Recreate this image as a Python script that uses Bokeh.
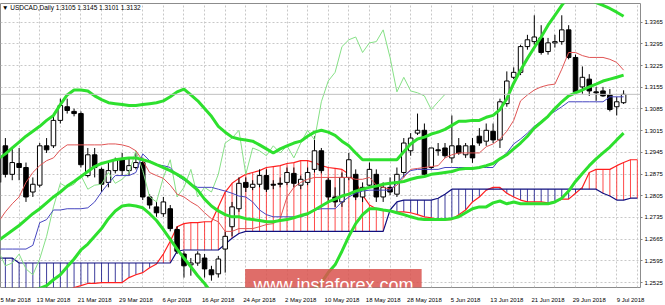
import numpy as np
from bokeh.plotting import figure
from bokeh.models import Range1d, FixedTicker, Label, Span, PrintfTickFormatter, BoxAnnotation
from bokeh.embed import file_html
from bokeh.resources import INLINE

# ---------------- data (USDCAD daily, 5 Mar 2018 .. 10 Jul 2018) ----------------
date_labels = ["5 Mar 2018", "13 Mar 2018", "21 Mar 2018", "29 Mar 2018", "6 Apr 2018",
               "16 Apr 2018", "24 Apr 2018", "2 May 2018", "10 May 2018", "18 May 2018",
               "28 May 2018", "5 Jun 2018", "13 Jun 2018", "21 Jun 2018", "29 Jun 2018",
               "9 Jul 2018"]

opens = [1.2848, 1.2966, 1.2874, 1.2909, 1.2896, 1.2817, 1.2839, 1.2966, 1.2966, 1.3048,
         1.3092, 1.3077, 1.3070, 1.2870, 1.2937, 1.2890, 1.2848, 1.2886, 1.2921, 1.2886,
         1.2896, 1.2912, 1.2801, 1.2769, 1.2747, 1.2763, 1.2696, 1.2617, 1.2582, 1.2588,
         1.2604, 1.2566, 1.2553, 1.2633, 1.2705, 1.2763, 1.2848, 1.2832, 1.2842, 1.2870,
         1.2842, 1.2845, 1.2848, 1.2877, 1.2839, 1.2848, 1.2890, 1.2950, 1.2855, 1.2801,
         1.2785, 1.2864, 1.2874, 1.2801, 1.2839, 1.2874, 1.2801, 1.2832, 1.2810, 1.2880,
         1.2950, 1.3007, 1.3016, 1.2896, 1.2953, 1.2959, 1.2927, 1.2966, 1.2937, 1.2966,
         1.2997, 1.2981, 1.3013, 1.2985, 1.3102, 1.3187, 1.3203, 1.3286, 1.3302, 1.3314,
         1.3270, 1.3298, 1.3302, 1.3340, 1.3251, 1.3156, 1.3181, 1.3140, 1.3143, 1.3130,
         1.3092, 1.3105]
highs = [1.2943, 1.2991, 1.2959, 1.2959, 1.2912, 1.2864, 1.2975, 1.2991, 1.3061, 1.3118,
         1.3118, 1.3086, 1.3077, 1.2959, 1.2959, 1.2896, 1.2912, 1.2928, 1.2943, 1.2928,
         1.2943, 1.2928, 1.2810, 1.2785, 1.2801, 1.2775, 1.2706, 1.2626, 1.2604, 1.2626,
         1.2617, 1.2579, 1.2611, 1.2690, 1.2785, 1.2864, 1.2864, 1.2855, 1.2890, 1.2890,
         1.2855, 1.2864, 1.2896, 1.2896, 1.2870, 1.2896, 1.2997, 1.2959, 1.2864, 1.2832,
         1.2880, 1.2943, 1.2890, 1.2848, 1.2912, 1.2890, 1.2848, 1.2864, 1.2896, 1.2991,
         1.3007, 1.3070, 1.3038, 1.2959, 1.2975, 1.2975, 1.3064, 1.2991, 1.2975, 1.2991,
         1.3023, 1.3038, 1.3038, 1.3118, 1.3206, 1.3219, 1.3292, 1.3324, 1.3387, 1.3355,
         1.3314, 1.3324, 1.3387, 1.3355, 1.3260, 1.3222, 1.3197, 1.3156, 1.3156, 1.3149,
         1.3124, 1.3145]
lows = [1.2832, 1.2864, 1.2855, 1.2855, 1.2785, 1.2801, 1.2832, 1.2943, 1.2959, 1.3038,
        1.3070, 1.3061, 1.2896, 1.2864, 1.2864, 1.2817, 1.2832, 1.2877, 1.2870, 1.2870,
        1.2890, 1.2791, 1.2763, 1.2737, 1.2737, 1.2690, 1.2617, 1.2541, 1.2547, 1.2579,
        1.2541, 1.2531, 1.2541, 1.2557, 1.2674, 1.2753, 1.2817, 1.2823, 1.2832, 1.2817,
        1.2826, 1.2832, 1.2839, 1.2832, 1.2826, 1.2839, 1.2880, 1.2877, 1.2785, 1.2769,
        1.2769, 1.2855, 1.2791, 1.2785, 1.2832, 1.2785, 1.2785, 1.2807, 1.2801, 1.2864,
        1.2934, 1.3001, 1.2864, 1.2890, 1.2934, 1.2927, 1.2911, 1.2937, 1.2927, 1.2911,
        1.2966, 1.2966, 1.2975, 1.2959, 1.3092, 1.3181, 1.3194, 1.3276, 1.3292, 1.3260,
        1.3260, 1.3283, 1.3292, 1.3245, 1.3134, 1.3134, 1.3127, 1.3111, 1.3124, 1.3077,
        1.3064, 1.3101]
closes = [1.2927, 1.2874, 1.2912, 1.2896, 1.2801, 1.2842, 1.2966, 1.2953, 1.3048, 1.3096,
          1.3080, 1.3070, 1.2905, 1.2937, 1.2896, 1.2842, 1.2886, 1.2921, 1.2886, 1.2902,
          1.2912, 1.2801, 1.2775, 1.2750, 1.2785, 1.2699, 1.2626, 1.2579, 1.2588, 1.2617,
          1.2569, 1.2550, 1.2601, 1.2674, 1.2769, 1.2845, 1.2832, 1.2842, 1.2870, 1.2826,
          1.2839, 1.2842, 1.2880, 1.2845, 1.2858, 1.2880, 1.2950, 1.2886, 1.2801, 1.2785,
          1.2864, 1.2921, 1.2801, 1.2832, 1.2890, 1.2801, 1.2832, 1.2817, 1.2874, 1.2975,
          1.2991, 1.3016, 1.2874, 1.2959, 1.2950, 1.2934, 1.2966, 1.2943, 1.2966, 1.2927,
          1.2975, 1.3016, 1.2985, 1.3108, 1.3175, 1.3203, 1.3286, 1.3308, 1.3317, 1.3267,
          1.3298, 1.3302, 1.3340, 1.3251, 1.3140, 1.3187, 1.3143, 1.3137, 1.3127, 1.3083,
          1.3108, 1.3132]

tenkan = [1.2721, 1.2753, 1.2779, 1.2801, 1.2848, 1.2880, 1.2902, 1.2918, 1.2927, 1.2953,
          1.2969, 1.2969, 1.2969, 1.2969, 1.2969, 1.2969, 1.2972, 1.2972, 1.2969, 1.2963,
          1.2950, 1.2918, 1.2880, 1.2870, 1.2861, 1.2839, 1.2810, 1.2801, 1.2785, 1.2772,
          1.2750, 1.2731, 1.2721, 1.2690, 1.2690, 1.2699, 1.2699, 1.2699, 1.2705, 1.2712,
          1.2715, 1.2731, 1.2801, 1.2832, 1.2848, 1.2858, 1.2864, 1.2864, 1.2864, 1.2864,
          1.2864, 1.2864, 1.2858, 1.2858, 1.2864, 1.2839, 1.2832, 1.2826, 1.2839, 1.2864,
          1.2890, 1.2893, 1.2896, 1.2899, 1.2902, 1.2927, 1.2937, 1.2943, 1.2943, 1.2943,
          1.2943, 1.2963, 1.2972, 1.2988, 1.3013, 1.3048, 1.3111, 1.3130, 1.3146, 1.3156,
          1.3162, 1.3165, 1.3213, 1.3267, 1.3267, 1.3257, 1.3251, 1.3251, 1.3251, 1.3245,
          1.3235, 1.3210]
kijun = [1.2633, 1.2633, 1.2633, 1.2633, 1.2633, 1.2645, 1.2718, 1.2728, 1.2759, 1.2759,
         1.2763, 1.2763, 1.2763, 1.2766, 1.2785, 1.2817, 1.2845, 1.2870, 1.2870, 1.2870,
         1.2880, 1.2940, 1.2918, 1.2905, 1.2902, 1.2896, 1.2870, 1.2855, 1.2842, 1.2832,
         1.2832, 1.2832, 1.2826, 1.2820, 1.2813, 1.2804, 1.2801, 1.2785, 1.2759, 1.2744,
         1.2737, 1.2737, 1.2737, 1.2737, 1.2737, 1.2744, 1.2759, 1.2763, 1.2763, 1.2763,
         1.2785, 1.2801, 1.2813, 1.2820, 1.2823, 1.2823, 1.2823, 1.2823, 1.2845, 1.2870,
         1.2886, 1.2890, 1.2890, 1.2890, 1.2890, 1.2896, 1.2896, 1.2896, 1.2896, 1.2896,
         1.2896, 1.2896, 1.2896, 1.2924, 1.2943, 1.2972, 1.2988, 1.3007, 1.3029, 1.3045,
         1.3064, 1.3077, 1.3092, 1.3108, 1.3108, 1.3108, 1.3108, 1.3108, 1.3108, 1.3124,
         1.3124, 1.3124]
# Senkou spans run 2 bars past the last candle (to the right edge)
senkou_a = [1.2389, 1.2395, 1.2404, 1.2414, 1.2427, 1.2436, 1.2446, 1.2458, 1.2468, 1.2484,
            1.2496, 1.2509, 1.2515, 1.2522, 1.2522, 1.2525, 1.2525, 1.2525, 1.2525, 1.2541,
            1.2550, 1.2557, 1.2573, 1.2585, 1.2617, 1.2658, 1.2705, 1.2715, 1.2718, 1.2718,
            1.2721, 1.2721, 1.2769, 1.2817, 1.2845, 1.2861, 1.2874, 1.2880, 1.2886, 1.2896,
            1.2899, 1.2902, 1.2909, 1.2912, 1.2918, 1.2918, 1.2912, 1.2902, 1.2896, 1.2893,
            1.2890, 1.2874, 1.2848, 1.2807, 1.2775, 1.2763, 1.2759, 1.2756, 1.2753, 1.2753,
            1.2750, 1.2744, 1.2737, 1.2734, 1.2728, 1.2728, 1.2728, 1.2744, 1.2759, 1.2785,
            1.2801, 1.2823, 1.2832, 1.2832, 1.2813, 1.2801, 1.2791, 1.2785, 1.2785, 1.2785,
            1.2782, 1.2785, 1.2794, 1.2794, 1.2813, 1.2832, 1.2880, 1.2890, 1.2890, 1.2890,
            1.2902, 1.2912, 1.2921, 1.2921]
senkou_b = [1.2604, 1.2604, 1.2604, 1.2588, 1.2588, 1.2588, 1.2588, 1.2588, 1.2588, 1.2588,
            1.2588, 1.2588, 1.2588, 1.2588, 1.2588, 1.2588, 1.2588, 1.2588, 1.2588, 1.2588,
            1.2588, 1.2588, 1.2588, 1.2588, 1.2588, 1.2588, 1.2626, 1.2630, 1.2630, 1.2630,
            1.2630, 1.2630, 1.2630, 1.2649, 1.2668, 1.2683, 1.2690, 1.2690, 1.2690, 1.2690,
            1.2690, 1.2690, 1.2690, 1.2690, 1.2690, 1.2690, 1.2690, 1.2690, 1.2690, 1.2690,
            1.2690, 1.2690, 1.2690, 1.2690, 1.2690, 1.2690, 1.2690, 1.2759, 1.2785, 1.2791,
            1.2791, 1.2791, 1.2791, 1.2791, 1.2797, 1.2810, 1.2826, 1.2826, 1.2826, 1.2826,
            1.2826, 1.2826, 1.2826, 1.2826, 1.2826, 1.2826, 1.2826, 1.2826, 1.2826, 1.2826,
            1.2826, 1.2826, 1.2826, 1.2826, 1.2826, 1.2826, 1.2826, 1.2826, 1.2813, 1.2804,
            1.2791, 1.2791, 1.2797, 1.2797]

bb_upper = [1.2924, 1.2940, 1.2959, 1.2978, 1.2997, 1.3013, 1.3029, 1.3048, 1.3064, 1.3099,
            1.3130, 1.3146, 1.3146, 1.3143, 1.3127, 1.3115, 1.3105, 1.3102, 1.3099, 1.3096,
            1.3096, 1.3099, 1.3102, 1.3105, 1.3111, 1.3124, 1.3140, 1.3149, 1.3130, 1.3111,
            1.3086, 1.3061, 1.3029, 1.3010, 1.2994, 1.2988, 1.2985, 1.2981, 1.2969, 1.2956,
            1.2943, 1.2956, 1.2966, 1.2975, 1.2981, 1.2997, 1.3010, 1.3016, 1.3010, 1.3000,
            1.2981, 1.2966, 1.2943, 1.2921, 1.2921, 1.2921, 1.2921, 1.2921, 1.2921, 1.2947,
            1.2972, 1.2988, 1.2994, 1.3004, 1.3010, 1.3019, 1.3032, 1.3045, 1.3045, 1.3048,
            1.3048, 1.3058, 1.3064, 1.3083, 1.3118, 1.3168, 1.3210, 1.3248, 1.3283, 1.3317,
            1.3355, 1.3387, 1.3419, 1.3447, 1.3460, 1.3454, 1.3438, 1.3428, 1.3419, 1.3409,
            1.3397, 1.3384]
bb_middle = [1.2661, 1.2677, 1.2693, 1.2709, 1.2728, 1.2747, 1.2763, 1.2782, 1.2801, 1.2817,
             1.2836, 1.2851, 1.2867, 1.2883, 1.2899, 1.2909, 1.2915, 1.2921, 1.2924, 1.2927,
             1.2927, 1.2921, 1.2915, 1.2905, 1.2896, 1.2886, 1.2874, 1.2861, 1.2842, 1.2823,
             1.2794, 1.2772, 1.2756, 1.2744, 1.2737, 1.2737, 1.2731, 1.2728, 1.2725, 1.2721,
             1.2721, 1.2725, 1.2728, 1.2734, 1.2741, 1.2747, 1.2759, 1.2772, 1.2785, 1.2794,
             1.2804, 1.2810, 1.2820, 1.2826, 1.2832, 1.2836, 1.2842, 1.2845, 1.2848, 1.2851,
             1.2858, 1.2864, 1.2867, 1.2874, 1.2877, 1.2880, 1.2883, 1.2890, 1.2893, 1.2893,
             1.2896, 1.2902, 1.2909, 1.2924, 1.2937, 1.2956, 1.2975, 1.2997, 1.3023, 1.3042,
             1.3061, 1.3086, 1.3108, 1.3127, 1.3137, 1.3146, 1.3156, 1.3165, 1.3175, 1.3181,
             1.3187, 1.3194]
bb_lower = [1.2404, 1.2427, 1.2446, 1.2468, 1.2484, 1.2496, 1.2506, 1.2515, 1.2534, 1.2550,
            1.2576, 1.2601, 1.2630, 1.2649, 1.2674, 1.2699, 1.2731, 1.2756, 1.2772, 1.2775,
            1.2772, 1.2766, 1.2747, 1.2725, 1.2696, 1.2664, 1.2633, 1.2604, 1.2576, 1.2547,
            1.2522, 1.2493, 1.2477, 1.2468, 1.2465, 1.2471, 1.2468, 1.2462, 1.2468, 1.2477,
            1.2490, 1.2493, 1.2490, 1.2493, 1.2500, 1.2496, 1.2503, 1.2525, 1.2557, 1.2582,
            1.2626, 1.2674, 1.2715, 1.2744, 1.2763, 1.2763, 1.2759, 1.2756, 1.2750, 1.2744,
            1.2737, 1.2731, 1.2728, 1.2728, 1.2728, 1.2728, 1.2731, 1.2737, 1.2750, 1.2763,
            1.2769, 1.2769, 1.2782, 1.2788, 1.2779, 1.2785, 1.2779, 1.2779, 1.2779, 1.2779,
            1.2779, 1.2785, 1.2797, 1.2820, 1.2851, 1.2877, 1.2902, 1.2924, 1.2943, 1.2962,
            1.2985, 1.3007]

price_ticks = [1.2525, 1.2595, 1.2665, 1.2735, 1.2805, 1.2875, 1.2945, 1.3015, 1.3085,
               1.3155, 1.3225, 1.3295, 1.3365]
bid_price = 1.3132
title_text = "\u25bc USDCAD,Daily  1.3105 1.3145 1.3101 1.3132"
watermark = "www.instaforex.com"
LAG = 26

# ---------------- figure ----------------
FONT = "Liberation Sans"
p = figure(width=665, height=305, output_backend="svg", toolbar_location=None,
           x_range=Range1d(0.29, 93.46), y_range=Range1d(1.2509, 1.3425),
           y_axis_location="right", min_border_left=0, min_border_top=3,
           min_border_right=24, min_border_bottom=13)
p.background_fill_color = "white"
p.border_fill_color = "white"
p.outline_line_color = "#8c8c8c"

# grid
p.xgrid.ticker = FixedTicker(ticks=list(range(0, 94, 3)))
p.ygrid.ticker = FixedTicker(ticks=price_ticks)
for g in (p.xgrid, p.ygrid):
    g.grid_line_color = "#c8c8c8"
    g.grid_line_dash = "2 2"
    g.grid_line_width = 1

# axes
ya = p.yaxis[0]
ya.ticker = FixedTicker(ticks=price_ticks)
ya.formatter = PrintfTickFormatter(format="%.4f")
ya.major_label_text_font = FONT
ya.major_label_text_font_size = "6px"
ya.major_label_text_color = "black"
ya.axis_line_color = None
ya.major_tick_in = 0
ya.major_tick_out = 2
ya.major_tick_line_color = "#808080"
ya.minor_tick_line_color = None
ya.major_label_standoff = 2

xa = p.xaxis[0]
xticks = [6 * i + 2 for i in range(len(date_labels))]
xa.ticker = FixedTicker(ticks=xticks)
xa.major_label_overrides = {t: lab for t, lab in zip(xticks, date_labels)}
xa.major_label_text_font = FONT
xa.major_label_text_font_size = "6px"
xa.major_label_text_color = "black"
xa.axis_line_color = None
xa.major_tick_line_color = None
xa.minor_tick_line_color = None
xa.major_label_standoff = 3

# ---------------- Ichimoku cloud ----------------
nb = len(senkou_a)
xs_cloud = np.arange(nb)
sa = np.array(senkou_a)
sb = np.array(senkou_b)
up = sa >= sb
p.segment(x0=xs_cloud[up], y0=sa[up], x1=xs_cloud[up], y1=sb[up],
          line_color="#ff2a2a", line_width=1, line_alpha=0.85)
p.segment(x0=xs_cloud[~up], y0=sa[~up], x1=xs_cloud[~up], y1=sb[~up],
          line_color="#1c1c8c", line_width=1, line_alpha=0.85)
p.line(xs_cloud, sa, line_color="#ff2020", line_width=1.2)
p.line(xs_cloud, sb, line_color="#101080", line_width=1.2)

# bid line
p.add_layout(Span(location=bid_price, dimension="width", line_color="#c0c0c0", line_width=1))

# ---------------- candles ----------------
n = len(closes)
xs = np.arange(n)
o = np.array(opens); c = np.array(closes); h = np.array(highs); l = np.array(lows)
p.segment(x0=xs, y0=l, x1=xs, y1=h, line_color="black", line_width=1)
bull = c >= o
p.vbar(x=xs[bull], width=0.66, top=c[bull], bottom=o[bull],
       fill_color="white", line_color="black", line_width=1)
p.vbar(x=xs[~bull], width=0.66, top=o[~bull], bottom=c[~bull],
       fill_color="black", line_color="black", line_width=1)

# ---------------- lines ----------------
chikou = c[LAG:]
p.line(np.arange(len(chikou)), chikou, line_color="#86e086", line_width=1)
p.line(xs, tenkan, line_color="#e05555", line_width=1)
p.line(xs, kijun, line_color="#4646c0", line_width=1)
for band in (bb_upper, bb_middle, bb_lower):
    p.line(xs, band, line_color="#2ee02e", line_width=3)

# ---------------- texts ----------------
p.add_layout(Label(x=0.5, y=1.3413, text=title_text, text_font=FONT,
                   text_font_size="6.5px", text_color="black", text_baseline="middle"))

bid_lab = Label(x=93.75, y=bid_price, text="1.3132", text_font=FONT, text_font_size="6px",
                text_color="black", text_baseline="middle", text_align="left",
                background_fill_color="#c8c8c8", background_fill_alpha=1.0)
p.add_layout(bid_lab)

# watermark box (runs down over the date axis) and its text
p.add_layout(BoxAnnotation(left=35.9, right=61.6, bottom=1.2460, top=1.2569,
                           fill_color="#d9534f", fill_alpha=0.85, line_color=None,
                           level="annotation"))
p.add_layout(Label(x=48.76, y=1.2516, text=watermark, text_font=FONT,
                   text_font_size="18px", text_color="white", text_align="center",
                   text_baseline="middle"))

open("out.html", "w").write(file_html(p, INLINE))
